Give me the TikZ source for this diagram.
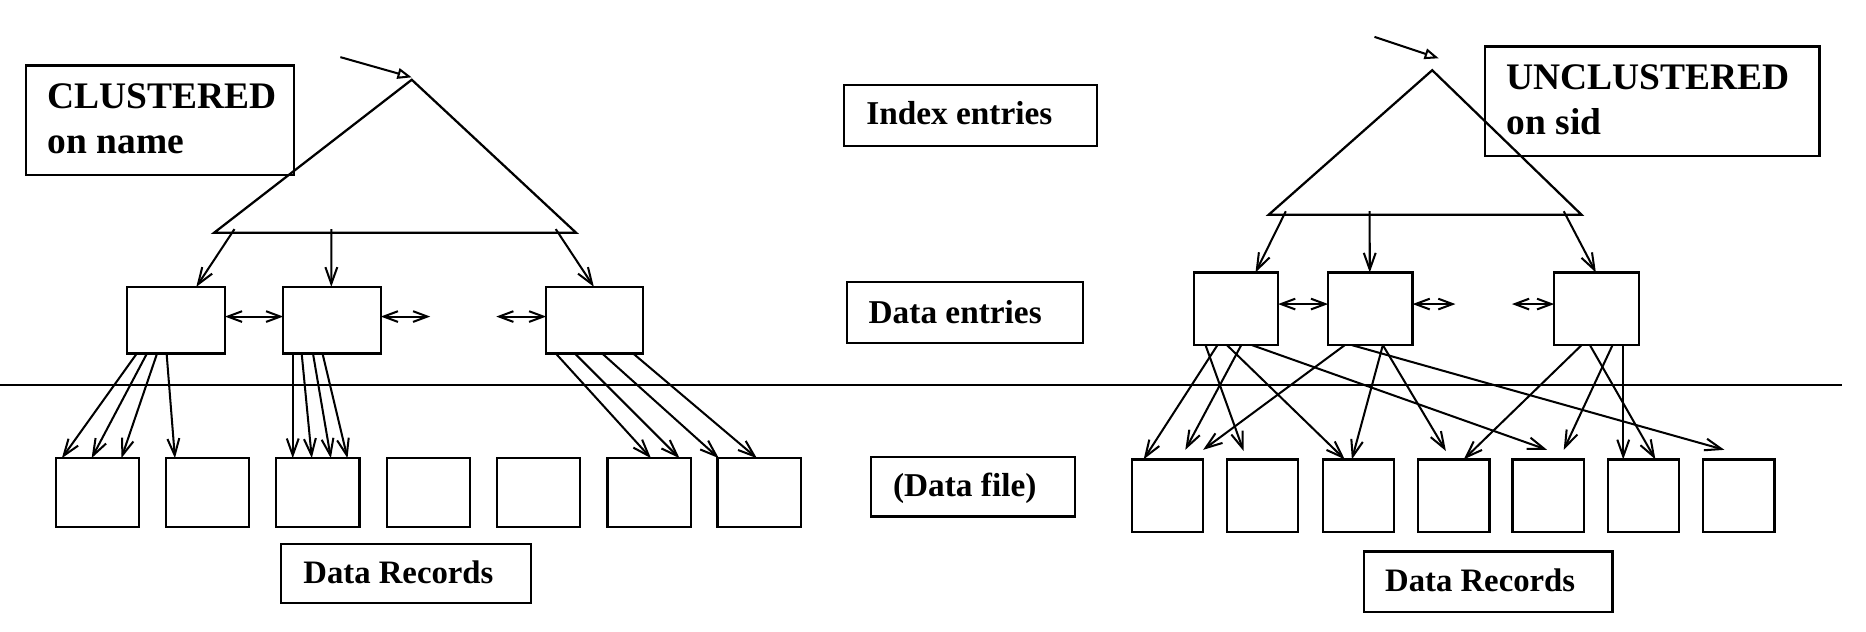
\documentclass[tikz,border=0pt]{standalone}
\usepackage{fontspec}
\setmainfont{Liberation Serif}
\usetikzlibrary{arrows.meta,calc}
\begin{document}
\begin{tikzpicture}[x=1pt,y=-1pt,line width=1.9pt,
  box/.style={draw, inner sep=0pt, outer sep=0pt, anchor=north west},
  lrec/.style={box, minimum width=70pt, minimum height=58pt},
  rrec/.style={box, minimum width=60pt, minimum height=61pt},
  ptr/.style={line width=1.7pt, -{Straight Barb[length=14pt,width=10pt]}},
  dbl/.style={line width=1.7pt, {Straight Barb[length=12pt,width=9pt]}-{Straight Barb[length=12pt,width=9pt]}},
  entry/.style={line width=1.7pt, -{Triangle[open,length=12pt,width=9pt]}},
  big/.style={font=\bfseries\fontsize{31.5}{38}\selectfont, anchor=base west, inner sep=0pt},
  lbl/.style={font=\bfseries\fontsize{28}{32}\selectfont, anchor=base west, inner sep=0pt},
  rlbl/.style={font=\bfseries\fontsize{27.5}{32}\selectfont, anchor=base west, inner sep=0pt},
]
\useasboundingbox (0,0) rectangle (1568,531);

% ---------- labels ----------
\node[box, minimum width=225pt, minimum height=92pt] (cbox) at (22,55) {};
\node[big] (ct1) at (39,91.5) {CLUSTERED};
\node[big] (ct2) at (39,129.3) {on name};

\node[box, minimum width=281pt, minimum height=92pt] (ubox) at (1248,39) {};
\node[big] (ut1) at (1265,75) {UNCLUSTERED};
\node[big] (ut2) at (1265,113) {on sid};

\node[box, minimum width=213pt, minimum height=51pt] (ibox) at (709,71.5) {};
\node[lbl] (it) at (727,105) {Index entries};
\node[box, minimum width=198pt, minimum height=51pt] (debox) at (712,237) {};
\node[lbl] (det) at (729,271.5) {Data entries};
\node[box, minimum width=171pt, minimum height=50pt] (dfbox) at (732,384) {};
\node[lbl] (dft) at (749.5,417) {(Data file)};

\node[box, minimum width=210pt, minimum height=50pt] (drl) at (236,457) {};
\node[rlbl] (drlt) at (254,490.5) {Data Records};
\node[box, minimum width=209pt, minimum height=50.5pt] (drr) at (1146,463.5) {};
\node[rlbl] (drrt) at (1163,497) {Data Records};

% ---------- separator ----------
\coordinate (H1) at (0,323.5);
\coordinate (H2) at (1548,323.5);
\draw (H1) -- (H2);

% ---------- left tree ----------
\coordinate (LT) at (346,67);
\coordinate (LL) at (180,195.5);
\coordinate (LR) at (484,195.5);
\draw (LL) -- (LT) -- (LR) -- cycle;
\coordinate (Lin) at (286,48);
\draw[entry] (Lin) -- ($(LT)+(0,-2)$);

\node[box, minimum width=82pt, minimum height=56pt] (A) at (107,241) {};
\node[box, minimum width=82pt, minimum height=56pt] (B) at (238,241) {};
\node[box, minimum width=81pt, minimum height=56pt] (C) at (459,241) {};

\draw[ptr] ($(LL)!0.056!(LR)+(0,-3)$) -- ($(A.north west)+(58,0)$);
\draw[ptr] ($(LL)!0.324!(LR)+(0,-3)$) -- ($(B.north west)+(40.4,0)$);
\draw[ptr] ($(LL)!0.944!(LR)+(0,-3)$) -- ($(C.north west)+(40,0)$);

\draw[dbl] ($(A.east)+(0,-3)$) -- ($(B.west)+(0,-3)$);
\coordinate (Bx) at (361.5,266);
\draw[dbl] ($(B.east)+(0,-3)$) -- (Bx);
\coordinate (Cx) at (417,266);
\draw[dbl] (Cx) -- ($(C.west)+(0,-3)$);

\node[lrec] (L1) at (47,385) {};
\node[lrec] (L2) at (139.5,385) {};
\node[lrec] (L3) at (232,385) {};
\node[lrec] (L4) at (325,385) {};
\node[lrec] (L5) at (417.5,385) {};
\node[lrec] (L6) at (510.5,385) {};
\node[lrec] (L7) at (603,385) {};

\draw[ptr] ($(A.south west)+(8,0)$) -- ($(L1.north west)+(5,0)$);
\draw[ptr] ($(A.south west)+(16.5,0)$) -- ($(L1.north west)+(30,0)$);
\draw[ptr] ($(A.south west)+(25,0)$) -- ($(L1.north west)+(55,0)$);
\draw[ptr] ($(A.south west)+(33,0)$) -- ($(L2.north west)+(7.5,0)$);

\draw[ptr] ($(B.south west)+(8,0)$) -- ($(L3.north west)+(14,0)$);
\draw[ptr] ($(B.south west)+(15.5,0)$) -- ($(L3.north west)+(30,0)$);
\draw[ptr] ($(B.south west)+(25,0)$) -- ($(L3.north west)+(46,0)$);
\draw[ptr] ($(B.south west)+(33,0)$) -- ($(L3.north west)+(60,0)$);

\draw[ptr] ($(C.south west)+(8,0)$) -- ($(L6.north west)+(36.5,0)$);
\draw[ptr] ($(C.south west)+(24,0)$) -- ($(L6.north west)+(60.5,0)$);
\draw[ptr] ($(C.south west)+(47,0)$) -- ($(L7.north west)+(1,0)$);
\draw[ptr] ($(C.south west)+(73,0)$) -- ($(L7.north west)+(33,0)$);

% ---------- right tree ----------
\coordinate (RT) at (1203.5,59);
\coordinate (RL) at (1066,180.5);
\coordinate (RR) at (1329,180.5);
\draw (RL) -- (RT) -- (RR) -- cycle;
\coordinate (Rin) at (1155,31);
\coordinate (Rtip) at (1209,49);
\draw[entry] (Rin) -- (Rtip);

\node[box, minimum width=71pt, minimum height=61pt] (D) at (1003,229) {};
\node[box, minimum width=71pt, minimum height=61pt] (E) at (1116,229) {};
\node[box, minimum width=71pt, minimum height=61pt] (F) at (1306,229) {};

\draw[ptr] ($(RL)!0.055!(RR)+(0,-3)$) -- ($(D.north west)+(52,0)$);
\draw[ptr] ($(RL)!0.323!(RR)+(0,-3)$) -- ($(E.north west)+(35,0)$);
\draw[ptr] ($(RL)!0.943!(RR)+(0,-3)$) -- ($(F.north west)+(35,0)$);

\draw[dbl] ($(D.east)+(0,-4)$) -- ($(E.west)+(0,-4)$);
\coordinate (Ex) at (1223,255.5);
\draw[dbl] ($(E.east)+(0,-4)$) -- (Ex);
\coordinate (Fx) at (1270.5,255.5);
\draw[dbl] (Fx) -- ($(F.west)+(0,-4)$);

\node[rrec] (R1) at (951,386) {};
\node[rrec] (R2) at (1031,386) {};
\node[rrec] (R3) at (1111.5,386) {};
\node[rrec] (R4) at (1191.5,386) {};
\node[rrec] (R5) at (1271,386) {};
\node[rrec] (R6) at (1351,386) {};
\node[rrec] (R7) at (1431,386) {};

\draw[ptr] ($(D.south west)+(20,0)$) -- ($(R1.north west)+(10,0)$);
\draw[ptr] ($(D.south west)+(40,0)$) -- ($(R1.north west)+(45,-8)$);
\draw[ptr] ($(D.south west)+(10,0)$) -- ($(R2.north west)+(14,-7)$);
\draw[ptr] ($(D.south west)+(28,0)$) -- ($(R3.north west)+(18.5,0)$);
\draw[ptr] ($(D.south west)+(49,0)$) -- ($(R5.north west)+(29,-8)$);

\draw[ptr] ($(E.south west)+(14,0)$) -- ($(R1.north west)+(60,-8)$);
\draw[ptr] ($(E.south west)+(46,0)$) -- ($(R3.north west)+(24.5,0)$);
\draw[ptr] ($(E.south west)+(46,0)$) -- ($(R4.north west)+(23.5,-7)$);
\draw[ptr] ($(E.south west)+(20,0)$) -- ($(R7.north west)+(18,-8)$);

\draw[ptr] ($(F.south west)+(23,0)$) -- ($(R4.north west)+(38.5,0)$);
\draw[ptr] ($(F.south west)+(49,0)$) -- ($(R5.north west)+(43,-8)$);
\draw[ptr] ($(F.south west)+(58,0)$) -- ($(R6.north west)+(13,0)$);
\draw[ptr] ($(F.south west)+(30,0)$) -- ($(R6.north west)+(40,0)$);
\end{tikzpicture}
\end{document}
